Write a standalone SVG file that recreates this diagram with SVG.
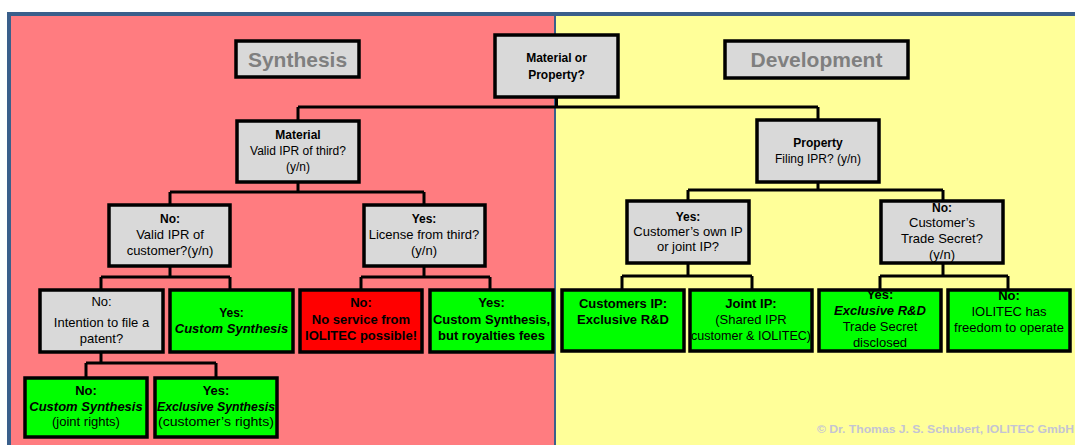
<svg xmlns="http://www.w3.org/2000/svg" width="1075" height="445" viewBox="0 0 1075 445">
<style>
text{font-family:"Liberation Sans",Arial,sans-serif;text-anchor:middle;fill:#000}
.box{stroke:#000;stroke-width:3.5}
.g{fill:#D9D9D9}
.gr{fill:#00FF00}
.rd{fill:#FF0000}
.t{font-size:12px}
.m{font-size:13px}
.b{font-weight:bold}
.bi{font-weight:bold;font-style:italic}
.title{font-size:21px;font-weight:bold;fill:#7F7F7F}
.conn{fill:none;stroke:#000;stroke-width:3}
.copy{font-size:11.5px;font-weight:bold;fill:#C4C4D4;text-anchor:start}
</style>
<rect x="0" y="0" width="1075" height="445" fill="#FFFFFF"/>
<rect x="9" y="14" width="1070" height="440" fill="#FF7C80"/>
<rect x="556" y="16" width="519" height="429" fill="#FFFF99"/>
<path d="M9 445 V14 H1075" fill="none" stroke="#3A5F8B" stroke-width="4"/>
<line x1="555" y1="16" x2="555" y2="445" stroke="#3A5F8B" stroke-width="2"/>

<g id="connectors" class="conn">
<path d="M556.5 97 V107 M298 107 H818 M298 107 V120 M818 107 V119"/>
<path d="M298 182 V192 M170 192 H424 M170 192 V204 M424 192 V204"/>
<path d="M818 182 V190 M688 190 H943 M688 190 V200 M943 190 V200"/>
<path d="M170 266 V277 M101 277 H230 M101 277 V289 M230 277 V289"/>
<path d="M424 266 V277 M361 277 H490 M361 277 V289 M490 277 V289"/>
<path d="M688 263 V276 M622 276 H752 M622 276 V289 M752 276 V289"/>
<path d="M943 263 V276 M880 276 H1008 M880 276 V289 M1008 276 V289"/>
<path d="M101 352 V363 M86 363 H216 M86 363 V377 M216 363 V377"/>
</g>

<g id="synthesis">
<rect class="box g" x="236" y="41" width="123" height="36"/>
<text class="title" x="297.5" y="67">Synthesis</text>
</g>
<g id="development">
<rect class="box g" x="725" y="41" width="183" height="37"/>
<text class="title" x="816.5" y="67">Development</text>
</g>
<g id="root">
<rect class="box g" x="495" y="35" width="123" height="62"/>
<text class="t b" x="556.5" y="62">Material or</text>
<text class="t b" x="556.5" y="79">Property?</text>
</g>
<g id="material">
<rect class="box g" x="237" y="121" width="122" height="61"/>
<text class="t b" x="298" y="139">Material</text>
<text class="t" x="298" y="155">Valid IPR of third?</text>
<text class="t" x="298" y="171">(y/n)</text>
</g>
<g id="property">
<rect class="box g" x="757" y="120" width="122" height="62"/>
<text class="t b" x="818" y="147">Property</text>
<text class="t" x="818" y="163">Filing IPR? (y/n)</text>
</g>
<g id="no-customer">
<rect class="box g" x="109" y="205" width="121" height="61"/>
<text class="t b" x="170" y="223">No:</text>
<text class="m" x="170" y="239">Valid IPR of</text>
<text class="m" x="170" y="255">customer?(y/n)</text>
</g>
<g id="yes-license">
<rect class="box g" x="364" y="205" width="121" height="61"/>
<text class="t b" x="424" y="223">Yes:</text>
<text class="m" x="424" y="239">License from third?</text>
<text class="m" x="424" y="255">(y/n)</text>
</g>
<g id="yes-own-ip">
<rect class="box g" x="627" y="201" width="122" height="62"/>
<text class="t b" x="688" y="221">Yes:</text>
<text class="m" x="688" y="236">Customer’s own IP</text>
<text class="m" x="688" y="251">or joint IP?</text>
</g>
<g id="no-trade-secret">
<rect class="box g" x="881" y="201" width="122" height="62"/>
<text class="t b" x="942" y="212">No:</text>
<text class="m" x="942" y="227">Customer’s</text>
<text class="m" x="942" y="243">Trade Secret?</text>
<text class="m" x="942" y="259">(y/n)</text>
</g>
<g id="no-intention">
<rect class="box g" x="40" y="290" width="123" height="62"/>
<text class="m" x="101.5" y="306">No:</text>
<text class="m" x="101.5" y="327">Intention to file a</text>
<text class="m" x="101.5" y="343">patent?</text>
</g>
<g id="yes-custom">
<rect class="box gr" x="170" y="290" width="123" height="62"/>
<text class="t b" x="231.5" y="317">Yes:</text>
<text class="m bi" x="231.5" y="333">Custom Synthesis</text>
</g>
<g id="no-service">
<rect class="box rd" x="300" y="290" width="122" height="62"/>
<text class="m b" x="361" y="307">No:</text>
<text class="m b" x="361" y="324">No service from</text>
<text class="m b" x="361" y="340">IOLITEC possible!</text>
</g>
<g id="yes-royalties">
<rect class="box gr" x="430" y="290" width="123" height="62"/>
<text class="m b" x="491.5" y="307">Yes:</text>
<text class="m b" x="491.5" y="324">Custom Synthesis,</text>
<text class="m b" x="491.5" y="340">but royalties fees</text>
</g>
<g id="no-joint-rights">
<rect class="box gr" x="25" y="378" width="122" height="59"/>
<text class="m b" x="86" y="395">No:</text>
<text class="m bi" x="86" y="411">Custom Synthesis</text>
<text class="m" x="86" y="426">(joint rights)</text>
</g>
<g id="yes-exclusive">
<rect class="box gr" x="155" y="378" width="122" height="59"/>
<text class="m b" x="216" y="395">Yes:</text>
<text class="m bi" x="216" y="411" textLength="118" lengthAdjust="spacingAndGlyphs">Exclusive Synthesis</text>
<text class="m" x="216" y="426" textLength="116" lengthAdjust="spacingAndGlyphs">(customer’s rights)</text>
</g>
<g id="customers-ip">
<rect class="box gr" x="562" y="290" width="122" height="61"/>
<text class="m b" x="623" y="308">Customers IP:</text>
<text class="m b" x="623" y="324">Exclusive R&amp;D</text>
</g>
<g id="joint-ip">
<rect class="box gr" x="690" y="290" width="122" height="61"/>
<text class="m b" x="751" y="308">Joint IP:</text>
<text class="m" x="751" y="324">(Shared IPR</text>
<text class="m" x="751" y="340" textLength="120" lengthAdjust="spacingAndGlyphs">customer &amp; IOLITEC)</text>
</g>
<g id="yes-trade-secret">
<rect class="box gr" x="819" y="290" width="122" height="61"/>
<text class="m b" x="880" y="299">Yes:</text>
<text class="m bi" x="880" y="315">Exclusive R&amp;D</text>
<text class="m" x="880" y="331">Trade Secret</text>
<text class="m" x="880" y="347">disclosed</text>
</g>
<g id="no-freedom">
<rect class="box gr" x="948" y="290" width="122" height="61"/>
<text class="m b" x="1009" y="300">No:</text>
<text class="m" x="1009" y="316">IOLITEC has</text>
<text class="m" x="1009" y="332">freedom to operate</text>
</g>
<text class="copy" x="817" y="433" textLength="257" lengthAdjust="spacingAndGlyphs">© Dr. Thomas J. S. Schubert, IOLITEC GmbH</text>
</svg>
